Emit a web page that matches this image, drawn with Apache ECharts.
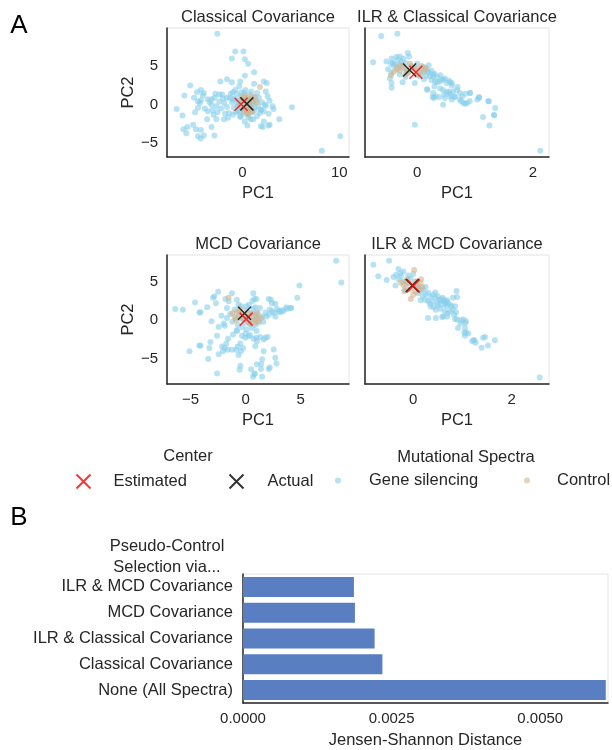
<!DOCTYPE html>
<html>
<head>
<meta charset="utf-8">
<script src="https://cdn.jsdelivr.net/npm/echarts@6/dist/echarts.min.js"></script>
<style>
  body { margin: 0; background: #fff; }
  #chart { width: 612px; height: 750px; }
</style>
</head>
<body>
<div id="chart"></div>
<script>
// ---- Panel A: PCA of mutational spectra ----

const classicalGene = [
  [-0.75, 6.9], [0.1, 6.9], [-1.1, 6.0], [0.24, 5.9], [0.58, 5.3], [1.2, 4.2], [0.24, 3.75], [-2.3, 3.0],
  [-1.6, 3.3], [-1.1, 2.9], [-0.24, 3.0], [-5.4, 2.5], [-6.0, 1.2], [-4.7, 1.6], [-4.3, 1.9], [1.2, 2.7],
  [2.5, 2.8], [-0.75, 1.9], [-0.34, 2.4], [-2.8, 1.4], [-2.4, 1.3], [-2.1, 1.3], [-1.6, 0.9], [-1.2, 1.4],
  [-1.0, 0.65], [-4.1, 1.2], [-4.6, 0.4], [-4.3, 0.56], [-4.4, 0.2], [-3.6, 0.7], [-3.2, 0.7], [-3.2, 0],
  [-2.7, -0.2], [-2.4, 0.4], [-1.9, 0.2], [-4.6, -0.4], [-6.8, -0.56], [-6.2, -1.4], [-3.6, -0.86], [-3.1, -0.73],
  [-2.6, -1.0], [-3.65, -1.9], [-2.7, -1.85], [-1.9, -1.9], [-1.5, -1.7], [-1.0, -1.3], [-0.5, -0.86], [-0.24, -1.5],
  [0.24, -2.2], [0.5, -1.1], [1.1, -1.9], [1.5, -1.5], [2.2, -2.2], [2.7, -1.2], [2.2, -0.86], [3.1, -0.2],
  [3.2, -0.56], [2.8, 0.5], [2.6, 1.1], [3.8, -1.9], [5.1, -0.35], [2.1, -2.9], [2.8, -2.6], [-3.2, -2.9],
  [-5.1, -2.6], [-5.7, -2.9], [-6.1, -3.2], [-5.8, -3.7], [-4.8, -3.2], [-4.3, -3.3], [-4.6, -4.1], [-4.3, -4.4],
  [-4.0, -4.0], [-2.9, -4.0], [8.2, -6.0], [10.1, -4.1], [-2.6, 9.2], [2.2, 3.0], [2.4, 1.7], [2.4, -0.13],
  [1.9, -0.65], [0.85, -1.9], [0.5, -2.7], [1.9, -2.8], [2.7, -2.7], [-4.0, 1.5], [-3.4, 0.3], [-2.9, 0.9],
  [-3.9, -0.5], [-2.2, -0.5], [-1.8, -1.2], [-3.0, -1.3], [-5.0, 0.9], [-4.9, -1.0], [-2.0, 0.8],
  [-1.3, 0.9], [-1.1, 0.3], [-0.9, -0.4], [-0.8, 0.8], [-0.6, 1.4], [-0.5, -0.2], [-0.4, 0.5], [-0.3, -0.9],
  [-0.2, 1.1], [-0.1, -0.5], [0, 0.7], [0.1, -1.2], [0.2, 1.5], [0.3, -0.3], [0.4, 0.9], [0.5, -0.8],
  [0.6, 0.3], [0.7, 1.3], [0.8, -0.5], [0.9, 0.6], [1.0, -1.0], [1.1, 0.2], [1.2, 1.0], [1.3, -0.4],
  [1.4, 0.5], [1.6, -0.2], [1.7, 0.9], [1.9, -0.7], [2.0, 0.3], [-0.7, -1.0], [-1.0, 1.6], [0.3, 1.9],
  [0.9, 1.7], [1.5, 1.5], [-0.2, -1.6], [0.6, -1.6], [1.8, -1.1], [2.3, 0.0], [-1.6, -0.3], [-1.4, -1.1],
  [0.0, 0.2], [0.2, -0.6], [-0.4, 0.0], [0.5, 0.5], [1.0, 0.0], [0.7, -0.2], [-0.6, 0.3], [0.1, 0.4],
  [1.2, -0.8], [-0.1, 1.6]
];
const classicalControl = [
  [0.0, 0.5], [0.3, 0.9], [0.6, 0.2], [0.9, -0.3], [0.4, -0.6], [-0.2, -0.2], [0.8, 0.7], [1.1, 0.4],
  [0.5, -1.1], [0.2, 1.2], [1.3, 1.0], [0.7, -0.8], [-0.1, 0.9], [1.0, -0.9], [1.8, 2.3], [0.4, 0.1],
  [0.6, -1.3], [1.5, 0.3], [0.1, -0.9], [0.9, 1.1]
];
const classicalEstimated = [[-0.15, 0.05]];
const classicalActual = [[0.45, 0.1]];

const ilrClassicalGene = [
  [-0.76, 5.5], [-0.53, 5.6], [-0.44, 6.0], [-0.36, 6.2], [-0.30, 6.25], [-0.24, 6.0], [-0.16, 6.7], [-0.14, 6.25],
  [-0.42, 5.4], [-0.39, 5.3], [-0.33, 5.8], [-0.27, 5.6], [-0.44, 4.1], [-0.47, 3.4], [-0.44, 2.8], [-0.44, 2.2],
  [-0.25, 2.9], [-0.16, 4.1], [-0.04, 2.8], [-0.04, -2.6], [0.05, 3.7], [0.1, 4.1], [0.16, 3.75], [0.22, 3.7],
  [0.28, 3.9], [0.25, 3.2], [0.31, 3.0], [0.35, 2.9], [0.39, 3.0], [0.48, 3.4], [0.51, 2.8], [0.57, 2.9],
  [0.17, 2.0], [0.28, 1.5], [0.27, 1.0], [0.32, 1.1], [0.38, 1.0], [0.45, 1.9], [0.51, 1.6], [0.57, 1.4],
  [0.62, 1.7], [0.69, 1.9], [0.74, 1.5], [0.83, 1.4], [0.48, 0.86], [0.57, 1.1], [0.65, 1.0], [0.74, 0.65],
  [0.80, 0.2], [0.83, 0.1], [0.86, 0.2], [0.45, 0], [0.6, 0.65], [0.92, 1.5], [1.07, 1.0], [1.04, 0.65],
  [1.23, 0.43], [1.35, -0.43], [1.33, -1.3], [1.14, -1.6], [1.25, -2.7], [2.13, -6.0], [-0.62, 8.9], [-0.34, 9.2],
  [0.19, 4.3], [0.28, 3.66], [0.43, 3.2], [0.6, 2.8], [0.18, 1.94], [0.29, 0.86], [0.47, 1.3], [0.55, 1.7],
  [0.65, 1.07], [0.78, 1.07], [0.91, 1.5], [0.76, 0.43], [0.91, 0.43], [1.07, 0.86], [1.24, 0.43], [1.33, -1.42],
  [-0.4, 5.0], [-0.35, 4.6], [-0.3, 5.2], [-0.25, 4.8], [-0.2, 5.4], [-0.18, 4.4], [-0.1, 5.0], [-0.05, 4.7],
  [0.0, 5.3], [0.05, 4.5], [0.1, 4.9], [0.15, 4.6], [0.2, 4.2], [0.25, 4.4], [0.3, 4.0], [0.35, 3.6],
  [0.4, 3.8], [0.45, 3.3], [0.55, 3.1], [0.6, 2.5], [0.7, 2.3], [0.3, 2.4], [0.4, 2.1], [-0.5, 4.6],
  [-0.3, 3.9], [0.12, 3.3], [-0.2, 3.6], [0.0, 3.9], [0.2, 5.1], [-0.45, 5.3]
];
const ilrClassicalControl = [
  [-0.35, 4.8], [-0.3, 4.4], [-0.25, 5.1], [-0.2, 4.6], [-0.15, 4.2], [-0.1, 4.9], [-0.05, 4.4], [0.0, 4.7],
  [0.05, 4.1], [0.08, 5.0], [0.12, 4.4], [-0.2, 3.9], [-0.4, 4.3], [0.0, 3.8], [-0.12, 5.3], [0.15, 4.8],
  [-0.45, 3.8], [-0.3, 5.0]
];
const ilrClassicalEstimated = [[-0.02, 4.2]];
const ilrClassicalActual = [[-0.13, 4.5]];

const mcdGene = [
  [8.24, 7.7], [8.7, 4.9], [4.9, 4.5], [4.7, 2.9], [4.15, 1.6], [3.75, 1.46], [3.4, 1.16], [3.15, 1.03],
  [2.85, 1.46], [2.55, 0.94], [2.4, 2.2], [2.3, 2.66], [2.1, 0.73], [1.9, 0.5], [2.7, 0.5], [-6.4, 1.46],
  [-5.7, 1.37], [-4.6, 2.3], [-4.2, 1.0], [-3.5, 1.7], [-2.7, 2.2], [-2.5, 3.7], [-2.85, 3.1], [-1.85, 2.75],
  [-1.24, 3.5], [-1.55, 2.45], [-0.8, 2.66], [-0.64, 2.0], [0.8, 2.75], [0.7, 3.5], [2.2, 1.4], [-3.1, -0.13],
  [-2.45, -0.86], [-2.0, -0.43], [-1.7, 0.3], [-2.6, -2.0], [-3.2, -2.8], [-4.1, -3.3], [-5.1, -4.0], [-1.6, -2.4],
  [-1.76, -3.0], [-1.9, -3.6], [-2.06, -4.0], [-1.64, -3.8], [-1.24, -3.8], [-0.85, -3.8], [-0.64, -4.5], [-0.24, -3.6],
  [-0.48, -3.0], [-3.4, -5.0], [-2.45, -4.4], [-2.6, -6.9], [-1.15, -1.85], [-0.79, -1.4], [-0.33, -2.0], [0.27, -2.06],
  [0.73, -2.4], [1.03, -2.7], [1.33, -2.15], [1.64, -2.5], [2.0, -2.15], [0.88, -3.35], [1.64, -4.0], [1.5, -5.06],
  [1.42, -5.7], [1.03, -5.7], [2.2, -6.1], [2.7, -4.85], [0.8, -7.0], [0.5, -6.35], [-0.55, -6.4], [-0.48, -5.9],
  [0.67, -7.3], [1.5, -7.3], [-4.1, 1.03], [-2.96, 2.9], [0.06, 1.8], [0.97, 2.75], [0.88, 1.7], [2.1, 2.75],
  [2.7, 2.15], [2.4, 1.16], [3.0, 1.16], [3.3, 1.3], [3.7, 1.7], [4.06, 1.6], [-4.2, -3.26], [-3.3, -3.6],
  [-2.15, -3.4], [-0.73, -3.4], [-0.42, -4.0], [-0.03, -2.27], [0.97, -2.27], [1.8, -2.27], [2.55, -3.78], [2.8, -5.6],
  [2.1, -6.3], [1.4, -6.3], [0.82, -6.9],
  [-1.4, 0.8], [-1.2, -0.2], [-1.0, 1.4], [-0.9, 0.3], [-0.7, -0.6], [-0.6, 1.0], [-0.5, 0.2], [-0.4, 1.8],
  [-0.3, -0.9], [-0.2, 0.6], [-0.1, -0.3], [0.0, 1.3], [0.1, -1.2], [0.2, 0.4], [0.3, 2.0], [0.4, -0.5],
  [0.5, 0.9], [0.6, -1.0], [0.7, 1.5], [0.8, 0.1], [0.9, -0.6], [1.0, 1.0], [1.1, 0.3], [1.2, -0.3],
  [1.3, 1.6], [1.5, 0.5], [1.6, -0.2], [1.8, 1.0], [-0.8, -1.3], [0.0, -1.7], [0.4, -1.9], [1.0, -1.4],
  [-1.7, 1.6], [-2.2, 0.6], [-1.9, -0.7], [0.6, 2.5], [0.2, -0.2], [-0.3, 0.3], [0.5, 0.0], [0.9, 0.7]
];
const mcdControl = [
  [-1.2, 0.9], [-1.0, 0.4], [-0.8, 1.1], [-0.6, 0.6], [-0.4, 0.9], [-0.2, 0.2], [0.0, 0.6], [0.2, 1.0],
  [0.4, 0.3], [0.6, 0.8], [0.8, 0.0], [1.0, 0.5], [1.2, -0.1], [1.4, 0.3], [0.3, -0.4], [-0.5, 1.5],
  [-1.55, 2.9], [0.9, -0.3], [-0.9, 0.0], [1.1, 0.9]
];
const mcdEstimated = [[0.05, 0.15]];
const mcdActual = [[-0.1, 0.9]];

const ilrMcdGene = [
  [-0.81, 7.2], [-0.49, 7.7], [-0.71, 5.7], [-0.54, 5.2], [-0.36, 4.5], [-0.3, 6.65], [-0.26, 6.1], [-0.17, 3.9],
  [0.24, 2.66], [0.34, 2.2], [0.41, 1.7], [0.46, 1.37], [0.3, 0.3], [0.49, 2.2], [0.53, 2.66], [0.58, 2.0],
  [0.62, 2.45], [0.69, 2.58], [0.88, 3.8], [0.89, 3.0], [0.68, 1.8], [0.64, 1.16], [0.75, 1.16], [0.85, 1.8],
  [0.87, 1.03], [0.61, 0.5], [0.69, 0.5], [0.83, 0.73], [0.89, 0.1], [1.02, 0.1], [1.07, -0.13], [0.96, -0.43],
  [1.05, -1.0], [0.91, -1.0], [1.07, -1.55], [1.05, -2.0], [1.12, -1.7], [1.23, -2.6], [1.27, -2.9], [1.39, -3.56],
  [1.52, -3.26], [1.46, -2.15], [1.66, -2.6], [2.57, -7.4], [0.46, 0.3], [0.81, 2.9], [0.66, 2.45], [0.78, 1.8],
  [0.59, 0.43], [0.85, 0.18], [0.97, 0.0], [1.06, -0.34], [1.04, -1.6], [1.2, -2.7], [1.42, -2.27], [1.24, -2.58],
  [-0.4, 5.6], [-0.35, 5.9], [-0.3, 5.3], [-0.25, 5.7], [-0.2, 6.3], [-0.15, 5.1], [-0.1, 5.8], [-0.05, 5.4],
  [0.0, 6.0], [0.05, 5.0], [0.1, 4.2], [0.15, 3.8], [0.2, 4.0], [0.25, 3.4], [0.3, 3.6], [0.35, 3.0],
  [0.4, 3.3], [0.45, 2.9], [0.5, 3.1], [0.55, 2.6], [0.6, 2.9], [0.65, 2.1], [0.7, 2.3], [0.2, 3.1],
  [0.3, 2.5], [0.15, 2.6], [0.4, 2.4], [0.5, 1.9], [0.55, 1.5], [0.35, 1.8], [-0.1, 4.8], [0.05, 4.4],
  [0.1, 3.5], [0.25, 4.3], [-0.2, 5.0], [0.45, 3.6], [0.6, 2.7], [0.75, 2.0], [0.8, 1.4], [0.7, 0.9]
];
const ilrMcdControl = [
  [-0.2, 4.6], [-0.15, 4.2], [-0.1, 4.9], [-0.05, 4.0], [0.0, 4.7], [0.05, 3.7], [0.08, 5.1], [0.1, 4.4],
  [0.12, 3.9], [0.15, 4.8], [-0.18, 3.8], [-0.12, 5.3], [0.02, 6.5], [-0.05, 2.75], [0.18, 4.3], [-0.25, 4.9],
  [0.0, 3.3], [0.16, 5.3]
];
const ilrMcdEstimated = [[0.0, 4.45]];
const ilrMcdActual = [[-0.02, 4.5]];

const ticksClassicalX = [0, 10];
const ticksIlrX = [0, 2];
const ticksMcdX = [-5, 0, 5];
const ticksY = [-5, 0, 5];

// ---- Panel B: Jensen-Shannon distance by pseudo-control selection ----
const barCategories = [
  "ILR & MCD Covariance",
  "MCD Covariance",
  "ILR & Classical Covariance",
  "Classical Covariance",
  "None (All Spectra)",
];
const barValues = [0.001866, 0.001883, 0.002214, 0.002345, 0.006103];
const barTicks = [0, 0.0025, 0.005];

// ---- estilo ----
const FONT = "Liberation Sans";
const INK = "#262626";
const GENE = "skyblue";
const CONTROL = "tan";
const X_PATH = "path://M0,0L10,10M10,0L0,10";

const panels = [
  { title: "Classical Covariance", gene: classicalGene, control: classicalControl, est: classicalEstimated, act: classicalActual,
    xTicks: ticksClassicalX, box: [167, 28, 182, 129], x: [-7.8, 11.0], y: [-6.8, 9.95], first: true },
  { title: "ILR & Classical Covariance", gene: ilrClassicalGene, control: ilrClassicalControl, est: ilrClassicalEstimated, act: ilrClassicalActual,
    xTicks: ticksIlrX, box: [365, 28, 184, 129], x: [-0.9, 2.28], y: [-6.8, 9.95], first: false },
  { title: "MCD Covariance", gene: mcdGene, control: mcdControl, est: mcdEstimated, act: mcdActual,
    xTicks: ticksMcdX, box: [167, 255, 182, 129], x: [-7.15, 9.4], y: [-8.25, 8.45], first: true },
  { title: "ILR & MCD Covariance", gene: ilrMcdGene, control: ilrMcdControl, est: ilrMcdEstimated, act: ilrMcdActual,
    xTicks: ticksIlrX, box: [365, 255, 184, 129], x: [-0.98, 2.76], y: [-8.25, 8.45], first: false },
];

const minus = (v) => (v < 0 ? "\u2212" + Math.abs(v) : String(v));

let grid = [];
let xAxis = [];
let yAxis = [];
let series = [];
let graphic = [];

panels.forEach((p, i) => {
  grid.push({
    left: p.box[0], top: p.box[1], width: p.box[2], height: p.box[3],
    show: true, borderColor: "#e3e3e3", borderWidth: 1,
  });
  xAxis.push({
    gridIndex: i, type: "value", min: p.x[0], max: p.x[1],
    name: "PC1", nameLocation: "middle", nameGap: 28,
    nameTextStyle: { fontSize: 16.5, color: INK },
    axisLine: { onZero: false, lineStyle: { color: INK, width: 1.5 } },
    axisTick: { show: false },
    splitLine: { show: false },
    axisLabel: { customValues: p.xTicks, formatter: minus, fontSize: 15, color: INK, margin: 8 },
  });
  yAxis.push({
    gridIndex: i, type: "value", min: p.y[0], max: p.y[1],
    name: p.first ? "PC2" : "", nameLocation: "middle", nameGap: 30,
    nameTextStyle: { fontSize: 16.5, color: INK },
    axisLine: { show: true, onZero: false, lineStyle: { color: INK, width: 1.5 } },
    axisTick: { show: false },
    splitLine: { show: false },
    axisLabel: { show: p.first, customValues: ticksY, formatter: minus, fontSize: 15, color: INK, margin: 9 },
  });
  series.push({
    name: "Gene silencing", type: "scatter", xAxisIndex: i, yAxisIndex: i,
    data: p.gene, symbolSize: 6, itemStyle: { color: GENE, opacity: 0.6 },
  });
  series.push({
    name: "Control", type: "scatter", xAxisIndex: i, yAxisIndex: i,
    data: p.control, symbolSize: 6, itemStyle: { color: CONTROL, opacity: 0.6 },
  });
  series.push({
    name: "Actual", type: "scatter", xAxisIndex: i, yAxisIndex: i, z: 4,
    data: p.act, symbol: X_PATH, symbolSize: 13,
    itemStyle: { color: "none", borderColor: "#000", borderWidth: 1.5 },
  });
  series.push({
    name: "Estimated", type: "scatter", xAxisIndex: i, yAxisIndex: i, z: 5,
    data: p.est, symbol: X_PATH, symbolSize: 13,
    itemStyle: { color: "none", borderColor: "#ff0000", borderWidth: 1.5 },
  });
  graphic.push({
    type: "text", x: p.box[0] + p.box[2] / 2, y: p.box[1] - 11,
    style: { text: p.title, font: "16.5px '" + FONT + "'", fill: INK, align: "center", verticalAlign: "middle", textAlign: "center", textVerticalAlign: "middle" },
  });
});

// Gráfico de barras
grid.push({ left: 243, top: 574, width: 365, height: 130, show: true, borderColor: "#e3e3e3", borderWidth: 1 });
xAxis.push({
  gridIndex: 4, type: "value", min: 0, max: 0.00614,
  name: "Jensen-Shannon Distance", nameLocation: "middle", nameGap: 29,
  nameTextStyle: { fontSize: 16.5, color: INK },
  axisLine: { show: true, onZero: false, lineStyle: { color: INK, width: 1.5 } },
  axisTick: { show: false },
  splitLine: { show: false },
  axisLabel: { customValues: barTicks, formatter: (v) => v.toFixed(4), fontSize: 15, color: INK, margin: 8 },
});
yAxis.push({
  gridIndex: 4, type: "category", data: barCategories, inverse: true,
  axisLine: { show: true, onZero: false, lineStyle: { color: INK, width: 1.5 } },
  axisTick: { show: false },
  axisLabel: { fontSize: 16.5, color: INK, margin: 10 },
});
series.push({
  name: "JSD", type: "bar", xAxisIndex: 4, yAxisIndex: 4,
  data: barValues, barWidth: 20, itemStyle: { color: "#5a7ec2" },
});

const txt = (text, x, y, size, extra) => ({
  type: "text", x, y,
  style: Object.assign({ text, font: size + "px '" + FONT + "'", fill: INK, align: "center", verticalAlign: "middle", textAlign: "center", textVerticalAlign: "middle" }, extra || {}),
});
graphic.push(txt("A", 19, 26, 26, { fill: "#000" }));
graphic.push(txt("B", 19, 518, 26, { fill: "#000" }));
graphic.push(txt("Center", 188, 456, 16.5));
graphic.push(txt("Mutational Spectra", 466, 457, 16.5));
graphic.push(txt("Pseudo-Control\nSelection via...", 167, 557, 16.5, { lineHeight: 21 }));

const legendItem = (name, left, top, w, h, pad) => ({
  data: [name], left, top, padding: 0,
  itemWidth: w, itemHeight: h, selectedMode: false,
  textStyle: { fontSize: 16.5, color: INK, padding: [0, 0, 0, pad] },
});

let options = {
  animation: false,
  textStyle: { fontFamily: FONT },
  grid, xAxis, yAxis, series, graphic,
  legend: [
    legendItem("Estimated", 74, 472, 14, 14, 18),
    legendItem("Actual", 227, 472, 14, 14, 19),
    legendItem("Gene silencing", 335, 472, 6, 6, 23),
    legendItem("Control", 524, 472, 6, 6, 22),
  ],
};

var chart = echarts.init(document.getElementById("chart"), null, { renderer: "canvas" });
chart.setOption(options);
</script>
</body>
</html>
